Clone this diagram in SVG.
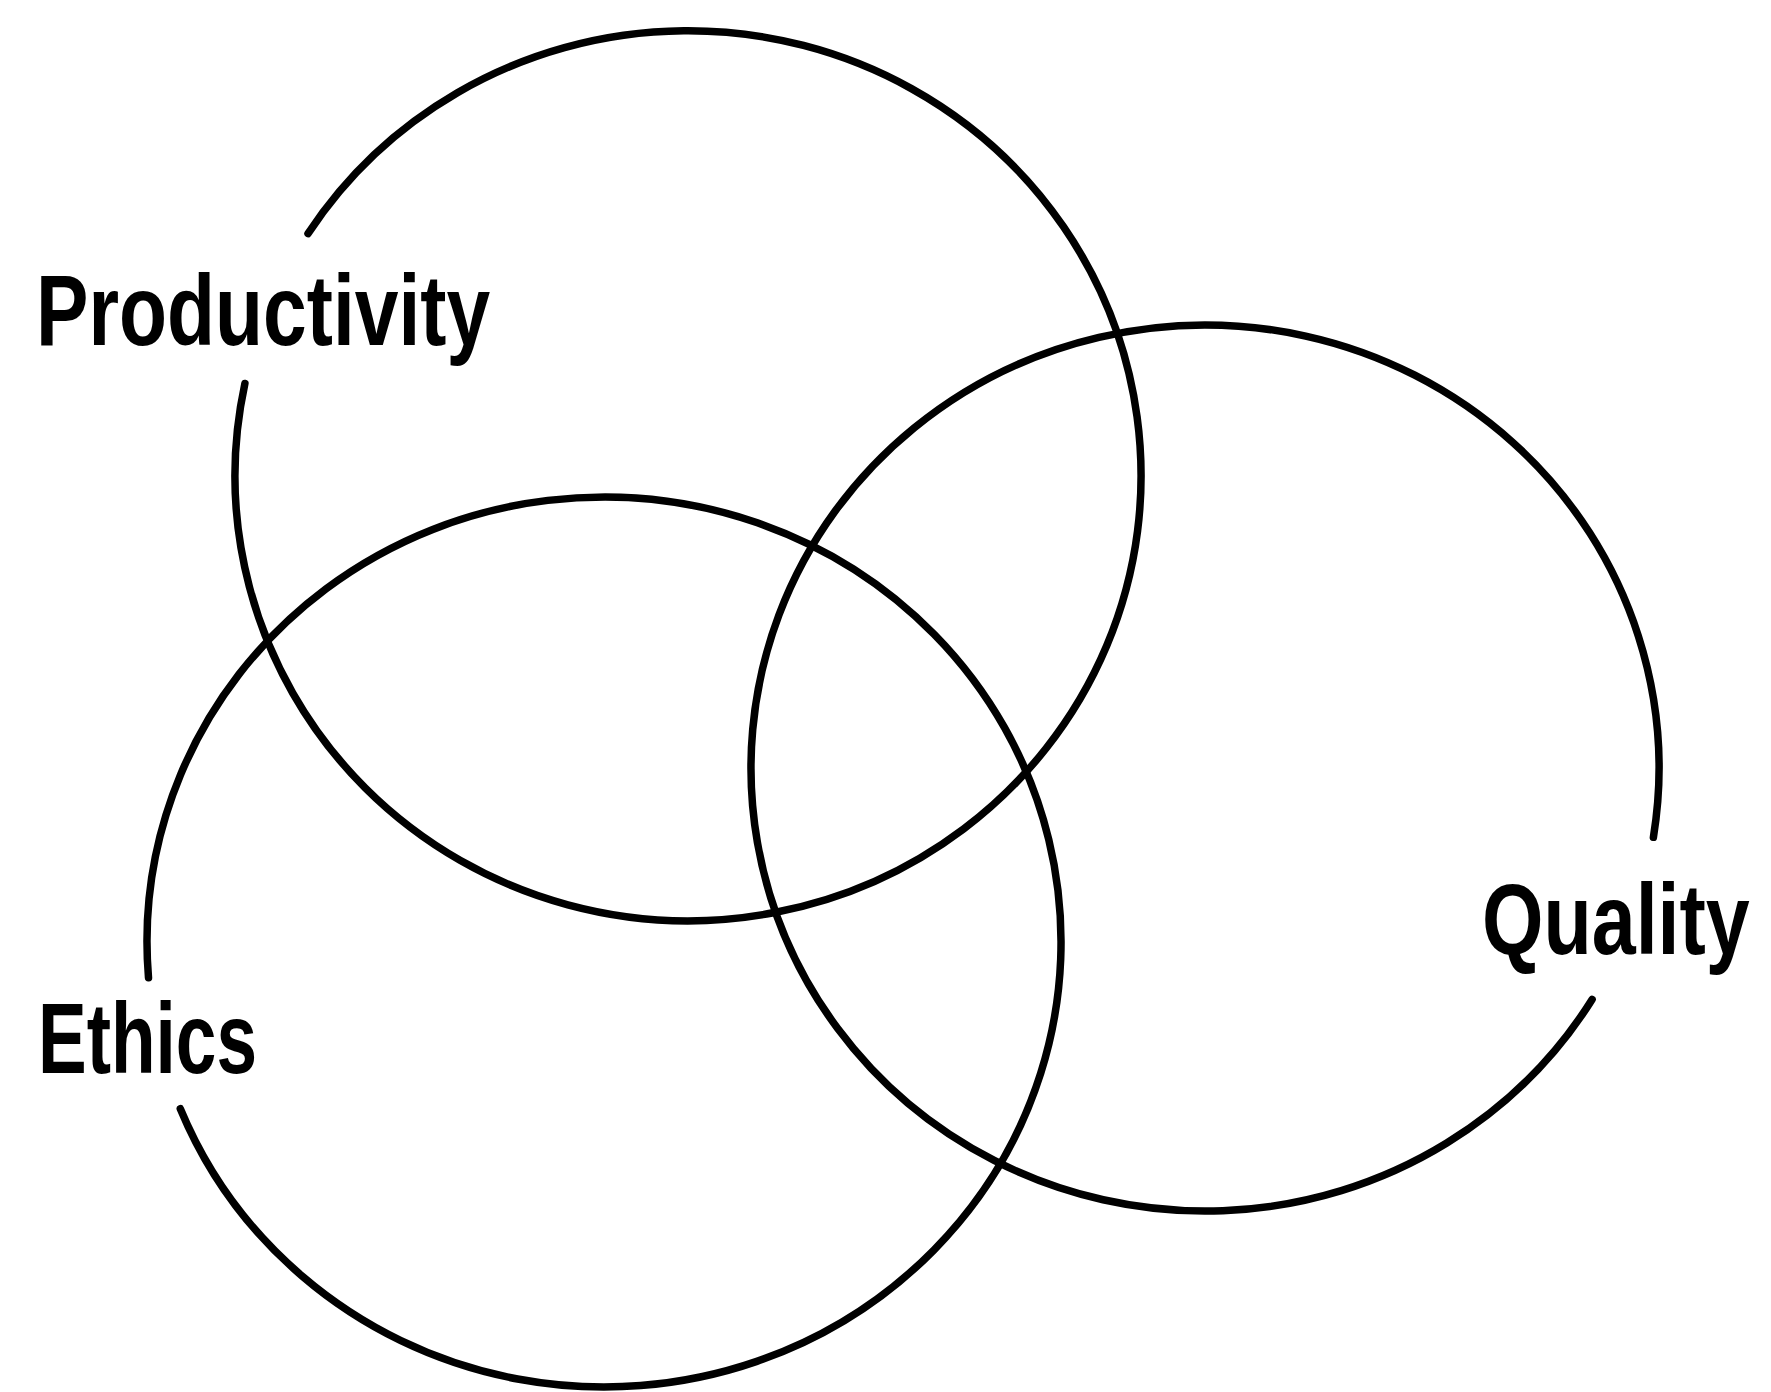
<svg xmlns="http://www.w3.org/2000/svg" width="1771" height="1392" viewBox="0 0 1771 1392">
<style>
.ring{fill:none;stroke:#000;stroke-width:7.5;stroke-linecap:round}
.lbl{font-family:"Liberation Sans",Arial,sans-serif;font-weight:bold;font-size:100px;fill:#000}
</style>
<rect width="1771" height="1392" fill="#fff"/>
<g id="connectors"></g>
<g id="productivity">
<path class="ring" d="M308,233.6 A453,445 0 1 1 244.9,383.5"/>
<text class="lbl" transform="translate(36,345) scale(0.786,1)" x="0" y="0">Productivity</text>
</g>
<g id="quality">
<path class="ring" d="M1592.1,999.5 A454,443 0 1 1 1653.4,837.3"/>
<text class="lbl" transform="translate(1482,954) scale(0.79,1)" x="0" y="0">Quality</text>
</g>
<g id="ethics">
<path class="ring" d="M148.5,977.7 A457,445 0 1 1 180.3,1108.7"/>
<text class="lbl" transform="translate(38,1073) scale(0.73,1)" x="0" y="0">Ethics</text>
</g>
</svg>
